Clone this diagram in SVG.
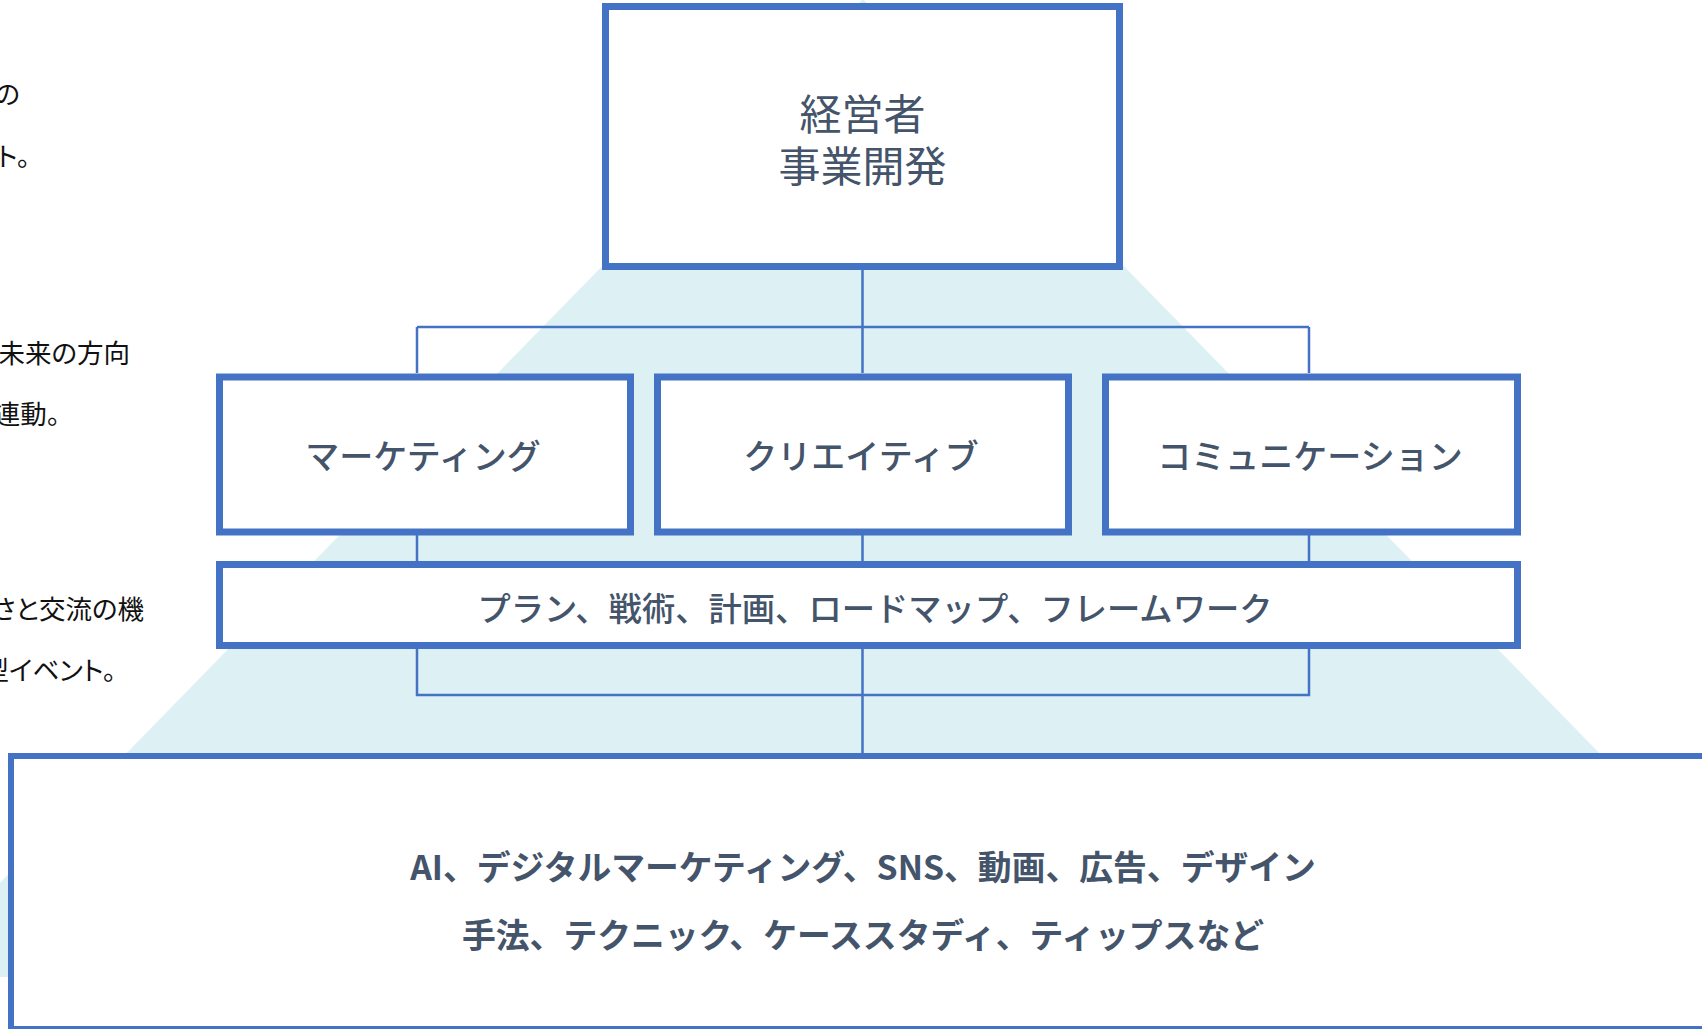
<svg xmlns="http://www.w3.org/2000/svg" width="1702" height="1029" viewBox="0 0 1702 1029">
<style>
.box{fill:#fff;stroke:#4472C4;stroke-width:7}
.conn{fill:none;stroke:#4472C4;stroke-width:2.5}
.t{font-family:"Noto Sans CJK JP","Noto Sans",sans-serif;fill:#44546A;text-anchor:middle}
.mid{font-size:34px;font-weight:500}
.plan{font-size:33.3px;font-weight:500}
.big{font-size:33.8px;font-weight:600}
.side{font-family:"Noto Sans CJK JP","Noto Sans",sans-serif;font-size:26.5px;fill:#111;text-anchor:end;font-feature-settings:"palt"}
</style>
<rect width="1702" height="1029" fill="#fff"/>
<polygon points="863,-1 -92,977 1818,977" fill="#DDF1F4"/>
<g id="side-notes">
<text class="side" x="20" y="104">の</text>
<text class="side" x="30" y="166">ト。</text>
<text class="side" x="130" y="363">未来の方向</text>
<text class="side" x="60" y="424">連動。</text>
<text class="side" x="144" y="619">さと交流の機</text>
<text class="side" x="116" y="680">型イベント。</text>
</g>
<g id="connectors">
<path class="conn" d="M862.5 270V373M417 327H1309M417 327V373M1309 327V373"/>
<path class="conn" d="M417 535V561M862.5 535V561M1309 535V561"/>
<path class="conn" d="M862.5 649V753M417 649V695H1309V649"/>
</g>
<g id="node-top">
<rect class="box" x="605.5" y="6.5" width="514" height="260"/>
<text class="t" x="862.5" y="130" font-size="42">経営者</text>
<text class="t" x="862.5" y="182" font-size="42">事業開発</text>
</g>
<g id="node-marketing">
<rect class="box" x="219.5" y="377" width="411" height="155"/>
<text class="t mid" x="423" y="469">マーケティング</text>
</g>
<g id="node-creative">
<rect class="box" x="657.5" y="377" width="411" height="155"/>
<text class="t mid" x="861" y="469">クリエイティブ</text>
</g>
<g id="node-communication">
<rect class="box" x="1105.5" y="377" width="412" height="155"/>
<text class="t mid" x="1310" y="469">コミュニケーション</text>
</g>
<g id="node-plan">
<rect class="box" x="219.5" y="564.5" width="1298" height="81"/>
<text class="t plan" x="875" y="621">プラン、戦術、計画、ロードマップ、フレームワーク</text>
</g>
<g id="node-bottom">
<rect class="box" x="11" y="756" width="1800" height="273" style="stroke-width:6"/>
<text class="t big" x="863" y="880">AI、デジタルマーケティング、SNS、動画、広告、デザイン</text>
<text class="t big" x="863" y="948">手法、テクニック、ケーススタディ、ティップスなど</text>
</g>
</svg>
